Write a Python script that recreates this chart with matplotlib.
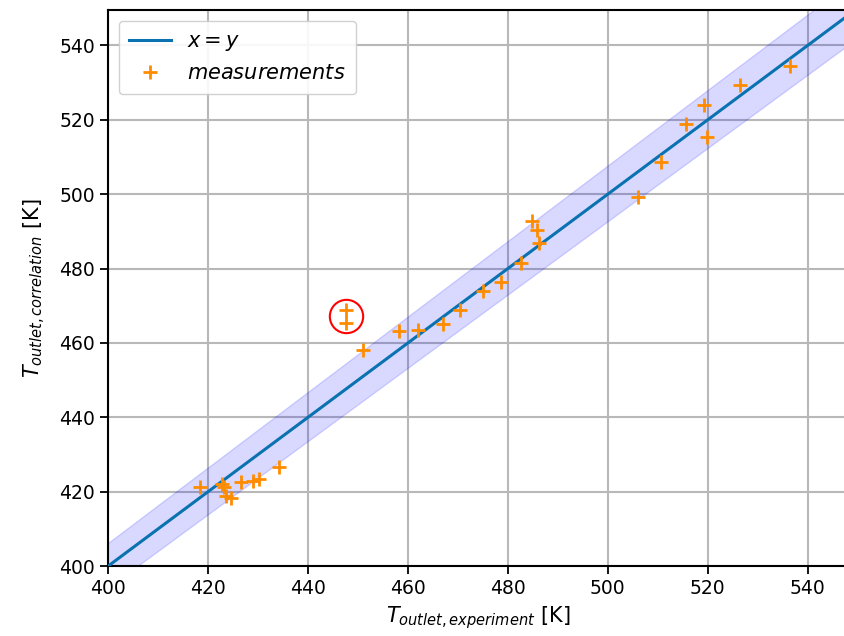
import matplotlib.pyplot as plt
import numpy as np

# measured outlet temperature vs correlation (K)
t_exp = [418.4, 422.8, 423.2, 423.6, 424.6, 426.5, 429.0, 430.2, 434.2,
         447.7, 447.6, 451.0, 458.2, 462.0, 467.0, 470.4, 475.0, 478.6,
         482.7, 484.8, 485.8, 486.2, 506.0, 510.6, 515.6, 519.2, 519.8,
         526.4, 536.4]
t_cor = [421.2, 422.1, 421.3, 418.8, 418.3, 422.5, 422.9, 423.3, 426.6,
         468.9, 465.4, 458.2, 463.1, 463.6, 465.2, 468.8, 473.9, 476.5,
         481.6, 492.8, 490.3, 486.8, 499.3, 508.6, 518.8, 524.1, 515.5,
         529.3, 534.4]
outliers = [9, 10]
band = 0.015

fig = plt.figure(figsize=(8.45, 6.36), dpi=100)
ax = fig.add_axes([0.128, 0.110, 0.875, 0.874])

xs = np.linspace(380, 560, 50)
ax.fill_between(xs, xs * (1 - band), xs * (1 + band), color='blue', alpha=0.15,
                lw=1, zorder=1)
ax.plot(xs, xs, color='#0a72b0', lw=2.2, label='$x = y$', zorder=3)
ax.plot(t_exp, t_cor, '+', color='darkorange', ms=10, mew=2,
        label='$measurements$', zorder=4)

cx = np.mean([t_exp[i] for i in outliers])
cy = np.mean([t_cor[i] for i in outliers])
ax.plot(cx, cy, 'o', ms=24, mfc='none', mec='red', mew=1.5, zorder=5)

ax.set_xlim(400, 548)
ax.set_ylim(400, 549.5)
ax.set_xticks(np.arange(400, 541, 20))
ax.set_yticks(np.arange(400, 541, 20))
ax.grid(True, color='#b8b8b8', lw=1.5, zorder=0)
ax.set_axisbelow(True)
ax.tick_params(labelsize=13.5, length=6, width=1.3)
for s in ax.spines.values():
  s.set_linewidth(1.5)

ax.set_xlabel('$T_{outlet, experiment}$ [K]', fontsize=15)
ax.set_ylabel('$T_{outlet, correlation}$ [K]', fontsize=15, labelpad=8)
ax.legend(loc='upper left', fontsize=15, framealpha=0.9, borderpad=0.5)

fig.savefig('out.png', dpi=100)
